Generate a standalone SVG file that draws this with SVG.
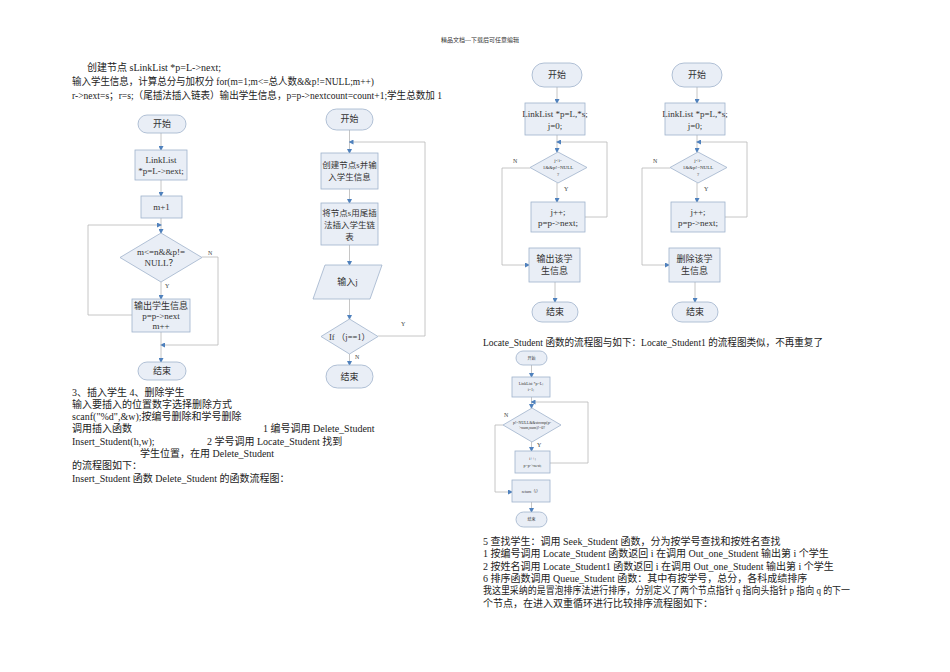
<svg xmlns="http://www.w3.org/2000/svg" width="950" height="672" viewBox="0 0 950 672">
<style>
.t{font-family:"Liberation Serif","Noto Sans CJK SC",serif;font-size:10px;fill:#222}
.h{font-family:"Liberation Serif","Noto Sans CJK SC",serif;font-size:6px;fill:#333}
.n{font-family:"Liberation Serif","Noto Sans CJK SC",serif;font-size:9px;fill:#333;text-anchor:middle}
.m{font-family:"Liberation Serif","Noto Sans CJK SC",serif;font-size:8.5px;fill:#333;text-anchor:middle}
.d{font-family:"Liberation Serif",serif;font-size:5px;fill:#333;text-anchor:middle}
.s{font-family:"Liberation Serif","Noto Sans CJK SC",serif;font-size:4px;fill:#333;text-anchor:middle}
.l{font-family:"Liberation Serif",serif;font-size:6px;fill:#444}
.b{fill:#e9eef6;stroke:#9fb2cc;stroke-width:0.8}
.c{fill:none;stroke:#b8b8b8;stroke-width:0.8;marker-end:url(#a)}
.w{fill:none;stroke:#b8b8b8;stroke-width:0.8}
</style>
<defs><marker id="a" markerWidth="5" markerHeight="5" refX="4" refY="2.5" orient="auto" markerUnits="userSpaceOnUse"><path d="M0,0L5,2.5L0,5z" fill="#4f81bd"/></marker></defs>
<rect width="950" height="672" fill="#fff"/>
<text class="h" x="480" y="42" text-anchor="middle">精品文档---下载后可任意编辑</text>
<text class="t" x="87" y="71">创建节点 sLinkList *p=L-&gt;next;</text>
<text class="t" x="72" y="85" textLength="302" lengthAdjust="spacingAndGlyphs">输入学生信息，计算总分与加权分 for(m=1;m&lt;=总人数&amp;&amp;p!=NULL;m++)</text>
<text class="t" x="72" y="99" textLength="370" lengthAdjust="spacingAndGlyphs">r-&gt;next=s；r=s;（尾插法插入链表）输出学生信息，p=p-&gt;nextcount=count+1;学生总数加 1</text>
<text class="t" x="72" y="396">3、插入学生 4、删除学生</text>
<text class="t" x="72" y="408">输入要插入的位置数字选择删除方式</text>
<text class="t" x="72" y="420">scanf("%d",&amp;w);按编号删除和学号删除</text>
<text class="t" x="72" y="432">调用插入函数</text>
<text class="t" x="263" y="432">1 编号调用 Delete_Student</text>
<text class="t" x="72" y="445">Insert_Student(h,w);</text>
<text class="t" x="207" y="445">2 学号调用 Locate_Student 找到</text>
<text class="t" x="140" y="457">学生位置，在用 Delete_Student</text>
<text class="t" x="72" y="469">的流程图如下：</text>
<text class="t" x="72" y="482">Insert_Student 函数 Delete_Student 的函数流程图：</text>
<text class="t" x="483" y="346" textLength="340" lengthAdjust="spacingAndGlyphs">Locate_Student 函数的流程图与如下：Locate_Student1 的流程图类似，不再重复了</text>
<text class="t" x="483" y="545">5 查找学生：调用 Seek_Student 函数，分为按学号查找和按姓名查找</text>
<text class="t" x="483" y="557">1 按编号调用 Locate_Student 函数返回 i 在调用 Out_one_Student 输出第 i 个学生</text>
<text class="t" x="483" y="570">2 按姓名调用 Locate_Student1 函数返回 i 在调用 Out_one_Student 输出第 i 个学生</text>
<text class="t" x="483" y="582">6 排序函数调用 Queue_Student 函数：其中有按学号，总分，各科成绩排序</text>
<text class="t" x="483" y="594" textLength="367" lengthAdjust="spacingAndGlyphs">我这里采纳的是冒泡排序法进行排序，分别定义了两个节点指针 q 指向头指针 p 指向 q 的下一</text>
<text class="t" x="483" y="607">个节点，在进入双重循环进行比较排序流程图如下：</text>

<g id="connectors">
<path class="c" d="M161,133V150"/><path class="c" d="M161,180V196"/><path class="c" d="M161,218V233"/>
<path class="c" d="M161,282V299"/><path class="w" d="M132,315H88V225"/><path class="c" d="M88,225H161"/>
<path class="w" d="M202,257H218V345"/><path class="c" d="M218,345H161"/><path class="c" d="M161,332V362"/>
<path class="c" d="M349.5,130V153"/><path class="c" d="M349.5,189V203"/><path class="c" d="M349.5,245V265"/>
<path class="c" d="M349.5,299V319"/><path class="c" d="M349.5,354V365"/>
<path class="w" d="M378,336H425V142"/><path class="c" d="M425,142H349.5"/>
<path class="c" d="M557,87V103"/><path class="c" d="M557,135V152"/><path class="c" d="M557,183V202"/>
<path class="w" d="M585,217H607V142"/><path class="c" d="M607,142H557"/>
<path class="w" d="M530,168H502V265"/><path class="c" d="M502,265H529"/><path class="c" d="M555,282V302"/>
<path class="c" d="M697,87V103"/><path class="c" d="M697,135V152"/><path class="c" d="M697,183V202"/>
<path class="w" d="M725,217H747V142"/><path class="c" d="M747,142H697"/>
<path class="w" d="M670,168H642V265"/><path class="c" d="M642,265H669"/><path class="c" d="M695,282V302"/>
<path class="c" d="M531.5,365V377"/><path class="c" d="M531.5,397V408"/><path class="c" d="M531.5,442V451"/>
<path class="w" d="M550,463H588V402"/><path class="c" d="M588,402H531.5"/>
<path class="w" d="M503,425H495V492"/><path class="c" d="M495,492H512"/><path class="c" d="M531.5,502V512"/>
<text class="l" x="165" y="288">Y</text><text class="l" x="208" y="255">N</text>
<text class="l" x="355" y="359">N</text><text class="l" x="401" y="326">Y</text>
<text class="l" x="513" y="163">N</text><text class="l" x="564" y="191">Y</text>
<text class="l" x="653" y="163">N</text><text class="l" x="704" y="191">Y</text>
<text class="l" x="504" y="417" font-size="4">N</text><text class="l" x="537" y="447" font-size="4">Y</text>
</g>

<g id="c1start"><rect class="b" x="138" y="115" width="48" height="18" rx="9"/><text class="n" x="162" y="127">开始</text></g>
<g id="c1init"><rect class="b" x="135" y="150" width="52" height="30"/><text class="n" x="161" y="163">LinkList</text><text class="n" x="161" y="174">*p=L-&gt;next;</text></g>
<g id="c1m"><rect class="b" x="141" y="196" width="41" height="22"/><text class="n" x="161.5" y="210">m+1</text></g>
<g id="c1cond"><path class="b" d="M161,233L202,257.5L161,282L120,257.5Z"/><text class="n" x="161" y="255">m&lt;=n&amp;&amp;p!=</text><text class="n" x="161" y="266">NULL？</text></g>
<g id="c1out"><rect class="b" x="132" y="299" width="58" height="33"/><text class="n" x="161" y="309">输出学生信息</text><text class="n" x="161" y="319">p=p-&gt;next</text><text class="n" x="161" y="329">m++</text></g>
<g id="c1end"><rect class="b" x="138" y="362" width="48" height="18" rx="9"/><text class="n" x="162" y="374">结束</text></g>

<g id="c2start"><rect class="b" x="326" y="109" width="47" height="21" rx="10.5"/><text class="n" x="349.5" y="122">开始</text></g>
<g id="c2create"><rect class="b" x="321" y="153" width="57" height="36"/><text class="m" x="349.5" y="168">创建节点s并输</text><text class="m" x="349.5" y="180">入学生信息</text></g>
<g id="c2insert"><rect class="b" x="321" y="203" width="57" height="42"/><text class="m" x="349.5" y="216">将节点s用尾插</text><text class="m" x="349.5" y="228">法插入学生链</text><text class="m" x="349.5" y="240">表</text></g>
<g id="c2input"><path class="b" d="M325,265H382L370,299H313Z"/><text class="n" x="347.5" y="285">输入j</text></g>
<g id="c2cond"><path class="b" d="M349.5,319L378,336.5L349.5,354L321,336.5Z"/><text class="m" x="349.5" y="339.5">If （j==1）</text></g>
<g id="c2end"><rect class="b" x="326" y="365" width="47" height="23" rx="11.5"/><text class="n" x="349.5" y="380">结束</text></g>

<g id="c3start"><rect class="b" x="532" y="63" width="50" height="24" rx="12"/><text class="n" x="557" y="78">开始</text></g>
<g id="c3init"><rect class="b" x="525" y="103" width="60" height="32"/><text class="n" x="555" y="117">LinkList *p=L,*s;</text><text class="n" x="555" y="129">j=0;</text></g>
<g id="c3cond"><path class="b" d="M558,152L587,167.5L558,183L530,167.5Z"/><text class="d" x="558" y="162">j&lt;i-</text><text class="d" x="558" y="169">1&amp;&amp;p!=NULL</text><text class="d" x="558" y="176">?</text></g>
<g id="c3inc"><rect class="b" x="531" y="202" width="54" height="30"/><text class="n" x="558" y="215">j++;</text><text class="n" x="558" y="226">p=p-&gt;next;</text></g>
<g id="c3out"><rect class="b" x="529" y="248" width="51" height="34"/><text class="n" x="554.5" y="262">输出该学</text><text class="n" x="554.5" y="274">生信息</text></g>
<g id="c3end"><rect class="b" x="532" y="302" width="46" height="20" rx="10"/><text class="n" x="555" y="315">结束</text></g>

<g id="c4start"><rect class="b" x="672" y="63" width="50" height="24" rx="12"/><text class="n" x="697" y="78">开始</text></g>
<g id="c4init"><rect class="b" x="665" y="103" width="60" height="32"/><text class="n" x="695" y="117">LinkList *p=L,*s;</text><text class="n" x="695" y="129">j=0;</text></g>
<g id="c4cond"><path class="b" d="M698,152L727,167.5L698,183L670,167.5Z"/><text class="d" x="698" y="162">j&lt;i-</text><text class="d" x="698" y="169">1&amp;&amp;p!=NULL</text><text class="d" x="698" y="176">?</text></g>
<g id="c4inc"><rect class="b" x="671" y="202" width="54" height="30"/><text class="n" x="698" y="215">j++;</text><text class="n" x="698" y="226">p=p-&gt;next;</text></g>
<g id="c4del"><rect class="b" x="669" y="248" width="51" height="34"/><text class="n" x="694.5" y="262">删除该学</text><text class="n" x="694.5" y="274">生信息</text></g>
<g id="c4end"><rect class="b" x="672" y="302" width="46" height="20" rx="10"/><text class="n" x="695" y="315">结束</text></g>

<g id="c5start"><rect class="b" x="516" y="351" width="31" height="14" rx="7"/><text class="s" x="531.5" y="359.5">开始</text></g>
<g id="c5init"><rect class="b" x="512" y="377" width="38" height="20"/><text class="s" x="531" y="385">LinkList *p=L;</text><text class="s" x="531" y="391">i=1;</text></g>
<g id="c5cond"><path class="b" d="M532,408L561,425L532,442L503,425Z"/><text class="s" x="532" y="424" font-size="3">p!=NULL&amp;&amp;strcmp(p-</text><text class="s" x="532" y="429" font-size="3">&gt;num,num)!=0?</text></g>
<g id="c5inc"><rect class="b" x="515" y="451" width="35" height="22"/><text class="s" x="532.5" y="460">i++;</text><text class="s" x="532.5" y="467">p=p-&gt;next;</text></g>
<g id="c5ret"><rect class="b" x="512" y="480" width="38" height="22"/><text class="s" x="531" y="492.5">return（i）</text></g>
<g id="c5end"><rect class="b" x="516" y="512" width="31" height="15" rx="7.5"/><text class="s" x="531.5" y="521">结束</text></g>
</svg>
